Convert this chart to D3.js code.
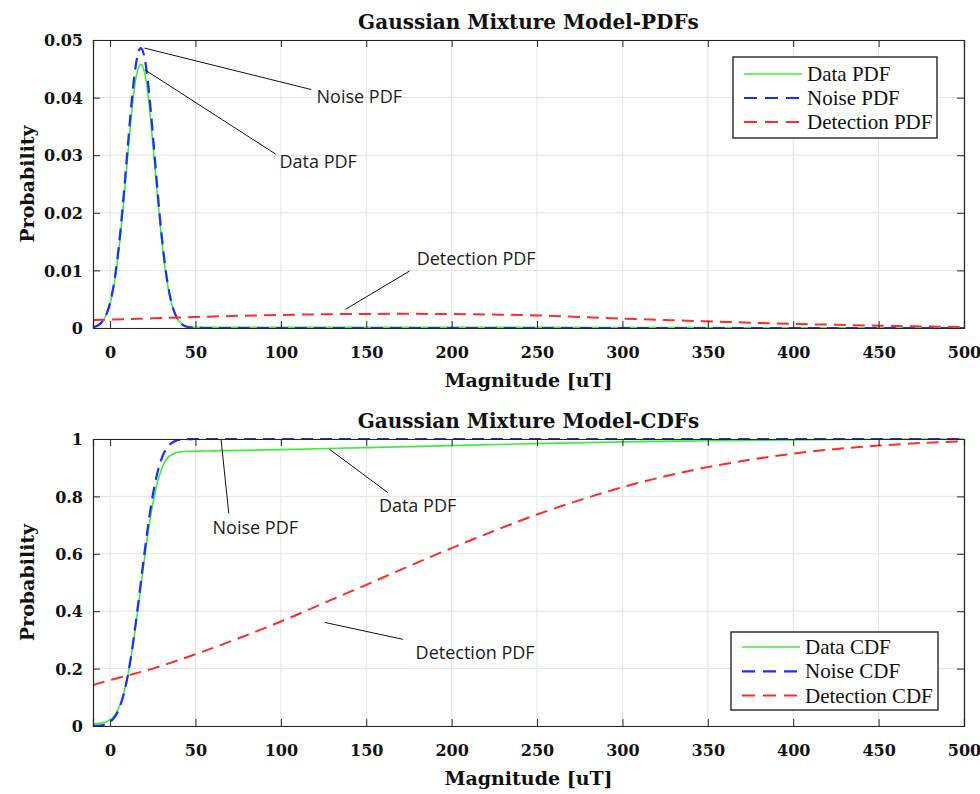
<!DOCTYPE html>
<html>
<head>
<meta charset="utf-8">
<script src="https://cdn.jsdelivr.net/npm/d3@7"></script>
<style>
  body { margin: 0; background: #fff; }
  svg { display: block; }
</style>
</head>
<body>
<svg id="chart" width="980" height="794"></svg>
<script>
// Sample magnitudes (uT) for the noise / data curves
const magnitude = [-10,-8,-6,-4,-2,0,2,4,6,8,10,12,14,16,18,20,22,24,26,28,30,32,34,36,38,40,42,44,46,48,50,55,60,100,150,200,250,300,350,400,450,500];

const noisePdf = [0.000143,0.000318,0.000672,0.00133,0.00248,0.00437,0.00724,0.01132,0.01666,0.0231,0.0302,0.0372,0.0432,0.0472,0.0486,0.0472,0.0432,0.0372,0.0302,0.0231,0.01666,0.01132,0.00724,0.00437,0.00248,0.00133,0.000672,0.000318,0.000143,0.00006,0.000024,0.000002,0,0,0,0,0,0,0,0,0,0];

const dataPdf = [0.00021,0.00037,0.00071,0.00133,0.00243,0.00422,0.00695,0.01083,0.01591,0.02202,0.02877,0.03542,0.04112,0.0446,0.0458,0.0446,0.04112,0.03543,0.02878,0.02203,0.01592,0.01084,0.00697,0.00424,0.00245,0.00135,0.00073,0.0004,0.00023,0.00015,0.00012,0.0001,0.0001,0.00011,0.00012,0.00012,0.00011,0.00008,0.00006,0.000035,0.00002,0.00001];

const noiseCdf = [0.0003,0.00076,0.0017,0.0036,0.0074,0.0141,0.0255,0.0439,0.0717,0.1112,0.1646,0.2321,0.3128,0.4036,0.5,0.5964,0.6872,0.7679,0.8354,0.8888,0.9283,0.9561,0.9745,0.9859,0.9926,0.9964,0.9983,0.9992,0.9997,0.9999,1,1,1,1,1,1,1,1,1,1,1,1];

const dataCdf = [0.0074,0.008,0.0091,0.0111,0.0148,0.0214,0.0324,0.0501,0.0767,0.1143,0.1653,0.2296,0.3065,0.3929,0.4846,0.5764,0.6628,0.7397,0.804,0.8549,0.8926,0.9192,0.9369,0.945,0.951,0.954,0.9555,0.9565,0.957,0.9574,0.9577,0.958,0.9585,0.963,0.97,0.977,0.984,0.99,0.994,0.997,0.999,0.9995];

// Sample magnitudes for the broad detection component
const detMagnitude = [-10,0,25,50,75,100,125,150,175,200,225,250,275,300,325,350,375,400,425,450,475,500];
const detectionPdf = [0.00139,0.00146,0.00168,0.00191,0.00211,0.00226,0.00238,0.00244,0.00246,0.00242,0.00233,0.00219,0.00192,0.00164,0.00139,0.00116,0.00092,0.00071,0.00055,0.0004,0.00027,0.00016];
const detectionCdf = [0.143,0.16,0.2,0.25,0.305,0.364,0.428,0.492,0.557,0.62,0.68,0.737,0.787,0.832,0.87,0.902,0.928,0.949,0.965,0.977,0.986,0.992];

// Axis ticks
const xTicks = [0,50,100,150,200,250,300,350,400,450,500];
const pdfTicks = [0,0.01,0.02,0.03,0.04,0.05];
const cdfTicks = [0,0.2,0.4,0.6,0.8,1];

// Legend entries
const pdfLegend = ["Data PDF","Noise PDF","Detection PDF"];
const cdfLegend = ["Data CDF","Noise CDF","Detection CDF"];

// Callout labels: [label, tip x, tip y, tail x, tail y, text x, text y] in data units
const pdfNotes = [
  ["Noise PDF", 20.1, 0.0486, 117.8, 0.0414, 120.9, 0.0390],
  ["Data PDF", 20.5, 0.0448, 96.9, 0.0302, 99.2, 0.0278],
  ["Detection PDF", 137.9, 0.00325, 175.4, 0.0099, 179.5, 0.0109]
];
const cdfNotes = [
  ["Noise PDF", 65, 0.9965, 69.5, 0.741, 60, 0.669],
  ["Data PDF", 128.5, 0.964, 162.7, 0.813, 157.4, 0.744],
  ["Detection PDF", 125.6, 0.361, 171.4, 0.302, 178.9, 0.2345]
];

const svg = d3.select("#chart");
const serif = "'DejaVu Serif', serif";
const axisColor = "#262626";
const styles = [
  { color: "#3cee3c", width: 1.6, dash: null },
  { color: "#1f2bff", width: 2.2, dash: "12,7" },
  { color: "#ff2a2a", width: 2.0, dash: "12,7" }
];

function drawPanel(cfg) {
  const g = svg.append("g");
  const x = d3.scaleLinear().domain([-10, 500]).range([93, 964]);
  const y = d3.scaleLinear().domain(cfg.yDomain).range([cfg.bottom, cfg.top]);
  const clipId = "clip" + cfg.id;

  svg.append("clipPath").attr("id", clipId)
    .append("rect").attr("x", 93).attr("y", cfg.top - 2)
    .attr("width", 871).attr("height", cfg.bottom - cfg.top + 3);

  // grid
  g.append("g").selectAll("line").data(xTicks).join("line")
    .attr("x1", d => x(d)).attr("x2", d => x(d))
    .attr("y1", cfg.top).attr("y2", cfg.bottom)
    .attr("stroke", "#e3e3e3").attr("stroke-width", 1);
  g.append("g").selectAll("line").data(cfg.yTicks).join("line")
    .attr("x1", 93).attr("x2", 964)
    .attr("y1", d => y(d)).attr("y2", d => y(d))
    .attr("stroke", "#e3e3e3").attr("stroke-width", 1);

  // curves
  const series = [
    { xs: magnitude, ys: cfg.data },
    { xs: magnitude, ys: cfg.noise },
    { xs: detMagnitude, ys: cfg.det }
  ];
  const line = d3.line().x(d => x(d[0])).y(d => y(d[1])).curve(d3.curveMonotoneX);
  const plot = g.append("g").attr("clip-path", `url(#${clipId})`);
  series.forEach((s, i) => {
    plot.append("path")
      .attr("d", line(s.xs.map((v, k) => [v, s.ys[k]])))
      .attr("fill", "none")
      .attr("stroke", styles[i].color)
      .attr("stroke-width", styles[i].width)
      .attr("stroke-dasharray", styles[i].dash);
  });

  // axes (box with inward ticks)
  const axB = d3.axisBottom(x).tickValues(xTicks).tickSize(-7).tickFormat(d3.format("d"));
  const axT = d3.axisTop(x).tickValues(xTicks).tickSize(-7).tickFormat("");
  const axL = d3.axisLeft(y).tickValues(cfg.yTicks).tickSize(-7).tickFormat(cfg.fmt);
  const axR = d3.axisRight(y).tickValues(cfg.yTicks).tickSize(-7).tickFormat("");
  const styleAxis = sel => {
    sel.select(".domain").attr("stroke", axisColor).attr("stroke-width", 1.2);
    sel.selectAll(".tick line").attr("stroke", axisColor).attr("stroke-width", 1);
    sel.selectAll("text").attr("font-family", serif).attr("font-weight", "bold")
      .attr("font-size", 16).attr("fill", "#111");
  };
  g.append("g").attr("transform", `translate(0,${cfg.bottom})`).call(axB).call(styleAxis)
    .selectAll("text").attr("y", 0).attr("dy", 0).attr("transform", "translate(0,30)");
  g.append("g").attr("transform", `translate(0,${cfg.top})`).call(axT).call(styleAxis);
  g.append("g").attr("transform", "translate(93,0)").call(axL).call(styleAxis)
    .selectAll("text").attr("x", -10).attr("dy", "0.36em");
  g.append("g").attr("transform", "translate(964,0)").call(axR).call(styleAxis);
  g.selectAll(".domain").attr("fill", "none");

  // title and axis labels
  g.append("text").attr("x", 528.5).attr("y", cfg.top - 11)
    .attr("text-anchor", "middle").attr("font-family", serif).attr("font-weight", "bold")
    .attr("font-size", 20).attr("fill", "#111").text(cfg.title);
  g.append("text").attr("x", 528.5).attr("y", cfg.bottom + 59)
    .attr("text-anchor", "middle").attr("font-family", serif).attr("font-weight", "bold")
    .attr("font-size", 19).attr("fill", "#111").text("Magnitude [uT]");
  g.append("text")
    .attr("transform", `translate(34,${(cfg.top + cfg.bottom) / 2}) rotate(-90)`)
    .attr("text-anchor", "middle").attr("font-family", serif).attr("font-weight", "bold")
    .attr("font-size", 19).attr("fill", "#111").text("Probability");

  // callouts
  cfg.notes.forEach(n => {
    g.append("line")
      .attr("x1", x(n[1])).attr("y1", y(n[2]))
      .attr("x2", x(n[3])).attr("y2", y(n[4]))
      .attr("stroke", "#111").attr("stroke-width", 1);
    g.append("text").attr("x", x(n[5])).attr("y", y(n[6]))
      .attr("font-family", "'Open Sans', sans-serif").attr("font-size", 18)
      .attr("fill", "#1c1c1c").text(n[0]);
  });

  // legend
  const L = cfg.legendBox;
  const lg = g.append("g");
  lg.append("rect").attr("x", L.x).attr("y", L.y).attr("width", L.w).attr("height", L.h)
    .attr("fill", "#fff").attr("stroke", "#333").attr("stroke-width", 1.5);
  cfg.legend.forEach((name, i) => {
    const cy = L.y + L.rowStart + i * L.rowGap;
    lg.append("line").attr("x1", L.x + 11).attr("x2", L.x + 69)
      .attr("y1", cy).attr("y2", cy)
      .attr("stroke", styles[i].color).attr("stroke-width", styles[i].width)
      .attr("stroke-dasharray", styles[i] .dash ? "13,8" : null);
    lg.append("text").attr("x", L.x + 74).attr("y", cy + 7)
      .attr("font-family", "'Liberation Serif', serif").attr("font-size", 21)
      .attr("fill", "#111").text(name);
  });
}

drawPanel({
  id: 1, top: 40, bottom: 328, yDomain: [0, 0.05], yTicks: pdfTicks,
  fmt: d => d === 0 ? "0" : d3.format(".2f")(d),
  data: dataPdf, noise: noisePdf, det: detectionPdf,
  title: "Gaussian Mixture Model-PDFs", notes: pdfNotes, legend: pdfLegend,
  legendBox: { x: 733, y: 57, w: 204, h: 81, rowStart: 17, rowGap: 24 }
});
drawPanel({
  id: 2, top: 439, bottom: 726, yDomain: [0, 1], yTicks: cdfTicks,
  fmt: d => (d === 0 || d === 1) ? String(d) : d3.format(".1f")(d),
  data: dataCdf, noise: noiseCdf, det: detectionCdf,
  title: "Gaussian Mixture Model-CDFs", notes: cdfNotes, legend: cdfLegend,
  legendBox: { x: 731, y: 632, w: 207, h: 78, rowStart: 15, rowGap: 24.3 }
});
</script>
</body>
</html>
